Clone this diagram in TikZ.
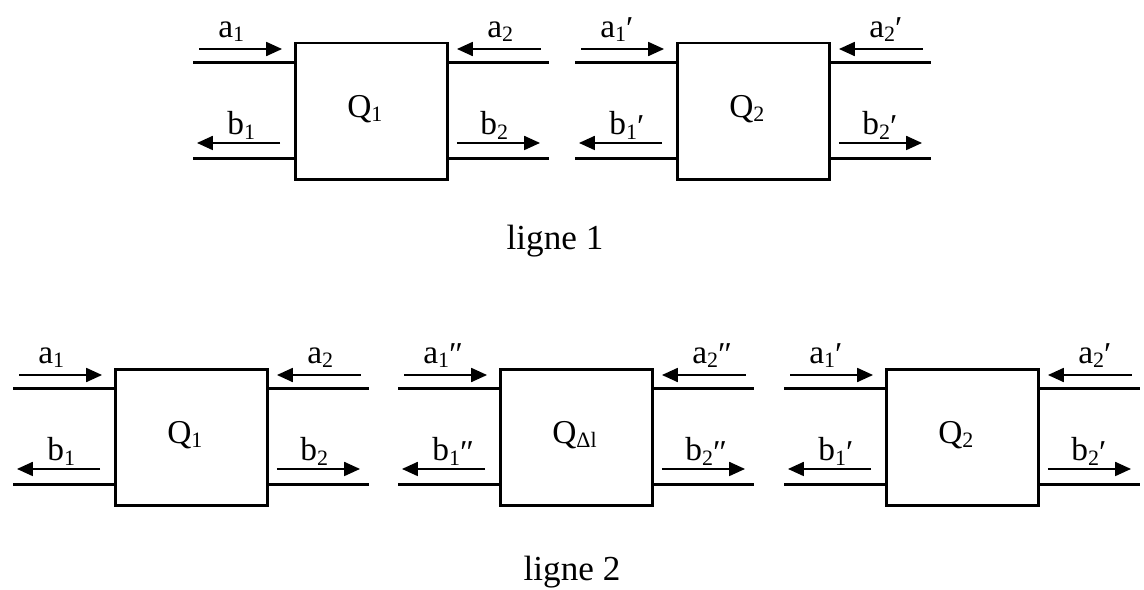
\documentclass[tikz,border=0pt]{standalone}
\usepackage{fontspec}
\setmainfont{Liberation Serif}
\usetikzlibrary{arrows.meta, positioning}

\newcommand{\idx}[1]{\raisebox{-2.6pt}{\fontsize{12.5}{13}\selectfont #1}}
\newcommand{\pr}[1]{\raisebox{-1.5pt}{#1}}

\begin{document}
\begin{tikzpicture}[x=0.02cm, y=-0.02cm,
    port/.style={draw, line width=1.7pt, minimum width=3.06cm, minimum height=2.74cm, inner sep=0pt, outer sep=0pt},
    wire/.style={line width=1.7pt},
    wave/.style={line width=0.85pt, -{Triangle[length=9pt, width=8pt]}},
    sig/.style={font=\fontsize{19}{21}\selectfont, anchor=base west, inner sep=0pt},
    title/.style={font=\fontsize{20}{23}\selectfont, anchor=base, inner sep=0pt}]
  \useasboundingbox (0,0) rectangle (1144,590);

  % two-ports: name / left / top / index of Q / prime
  \foreach \n/\x/\y/\q/\p in {qa/295/43/1/{}, qb/677/43/2/′, ra/115/369/1/{}, rb/500/369/Δl/″, rc/886/369/2/′} {
    \node[port] (\n) at (\x+76.5,\y+68.5) {};
    \node[sig] (\n-q) at ([shift={(52,74)}]\n.north west) {Q\idx{\q}};
    % lines in and out
    \coordinate (\n-w1) at ([shift={(-102,19.5)}]\n.north west);
    \coordinate (\n-w2) at ([shift={(101,19.5)}]\n.north east);
    \coordinate (\n-w3) at ([shift={(-102,-21.5)}]\n.south west);
    \coordinate (\n-w4) at ([shift={(101,-21.5)}]\n.south east);
    \draw[wire] (\n-w1) -- (\n-w1 -| \n.west);
    \draw[wire] (\n-w2) -- (\n-w2 -| \n.east);
    \draw[wire] (\n-w3) -- (\n-w3 -| \n.west);
    \draw[wire] (\n-w4) -- (\n-w4 -| \n.east);
    % waves
    \draw[wave] ([shift={(-96,6)}]\n.north west) -- ++(83,0);
    \draw[wave] ([shift={(93,6)}]\n.north east) -- ++(-84,0);
    \draw[wave] ([shift={(-15,-37)}]\n.south west) -- ++(-83,0);
    \draw[wave] ([shift={(9,-37)}]\n.south east) -- ++(83,0);
    \node[sig] (\n-a1) at ([shift={(-77,-6)}]\n.north west) {a\idx{1}\pr{\p}};
    \node[sig] (\n-a2) at ([shift={(39,-6)}]\n.north east) {a\idx{2}\pr{\p}};
    \node[sig] (\n-b1) at ([shift={(-68,-45)}]\n.south west) {b\idx{1}\pr{\p}};
    \node[sig] (\n-b2) at ([shift={(32,-45)}]\n.south east) {b\idx{2}\pr{\p}};
  }

  \node[title] (l1) at (555,250) {ligne 1};
  \node[title] (l2) at (572,581) {ligne 2};
\end{tikzpicture}
\end{document}
